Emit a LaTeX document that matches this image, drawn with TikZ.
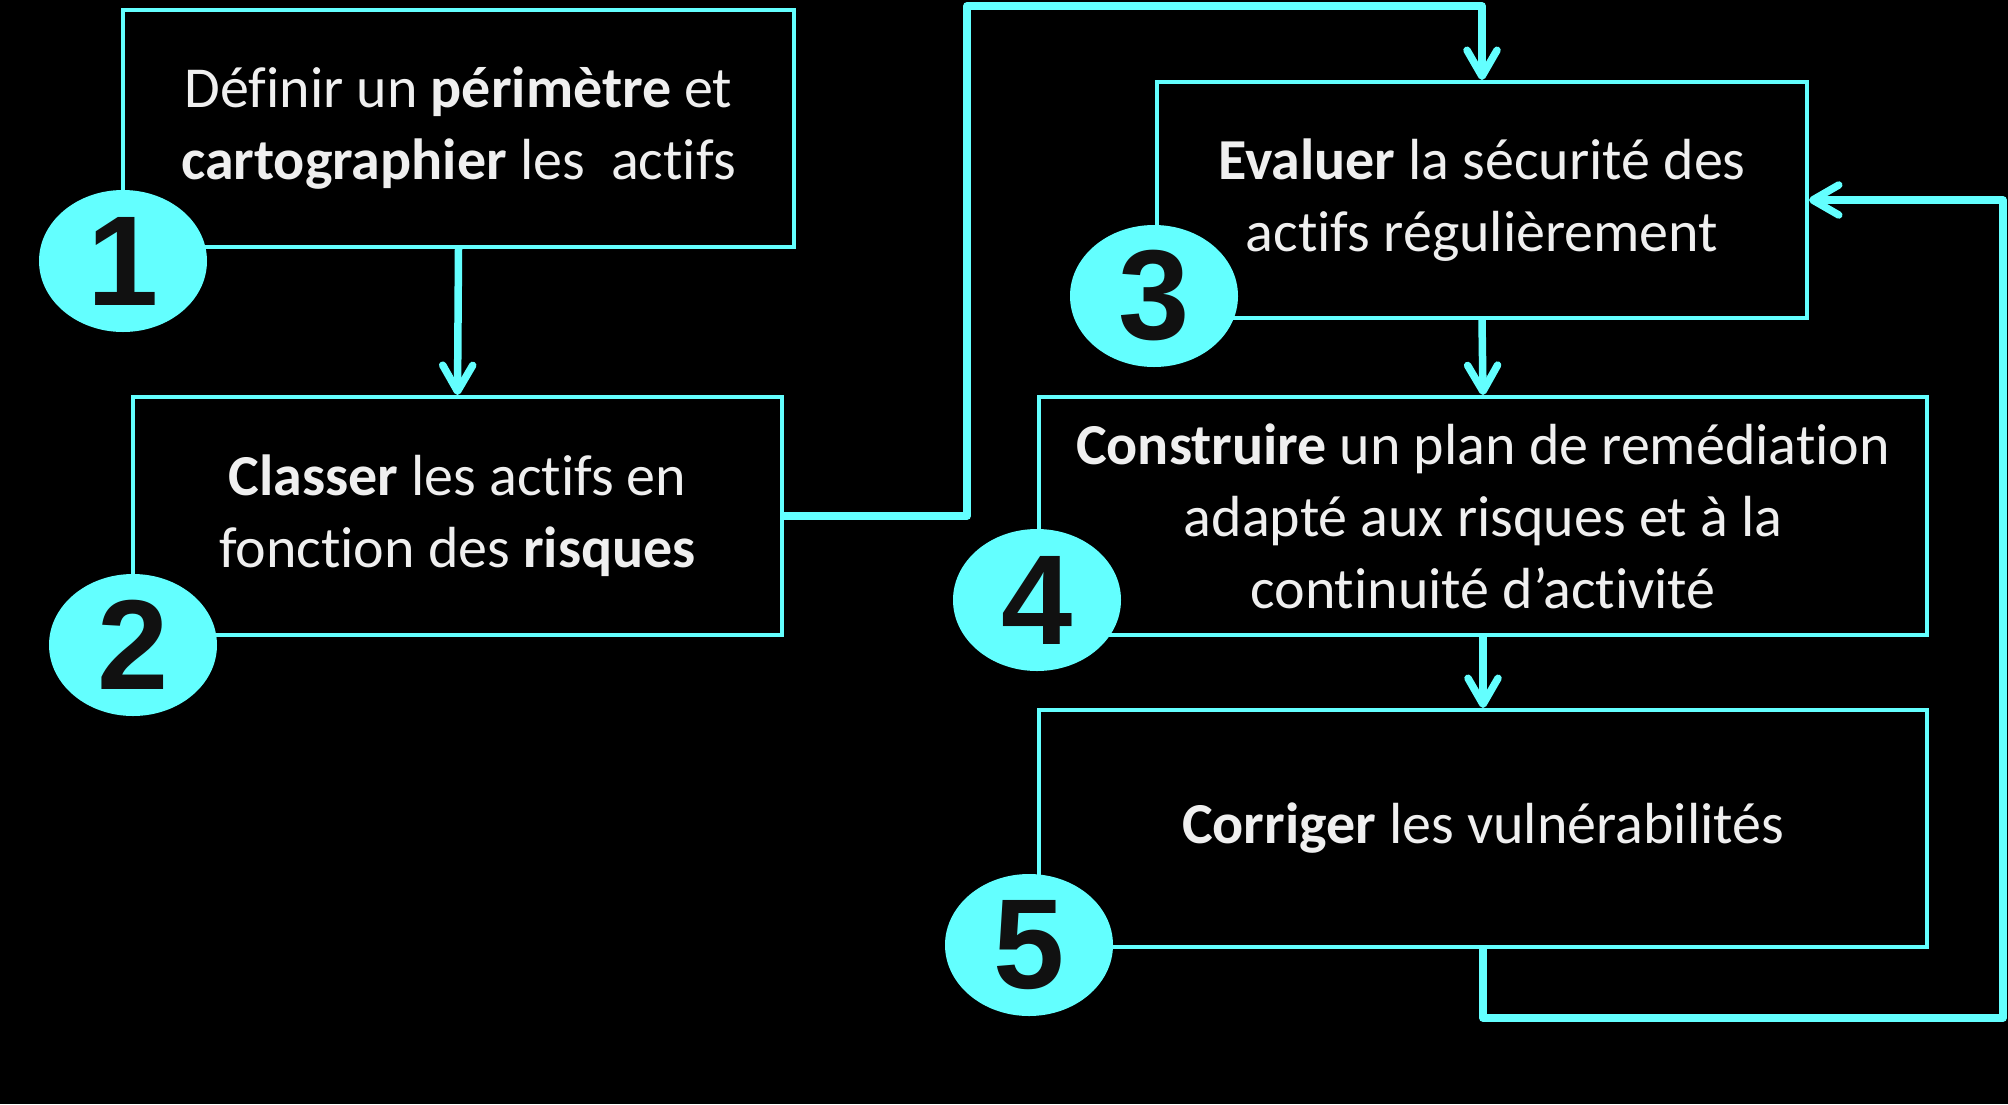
\documentclass[tikz,border=0pt]{standalone}
\usepackage{fontspec}
\setmainfont{Carlito}[RawFeature={-liga;-clig;-calt;-dlig}]
\newfontfamily\digitfont{Liberation Sans}
\usetikzlibrary{arrows.meta,shapes.geometric}
\definecolor{cy}{RGB}{99,255,255}
\definecolor{txt}{RGB}{239,239,239}
\definecolor{dig}{RGB}{17,17,17}
\begin{document}
\begin{tikzpicture}[x=0.5pt,y=-0.5pt,
  box/.style={draw=cy, line width=2pt, fill=black, rectangle, inner sep=0pt,
    text=txt, align=center, font=\fontsize{29}{36}\selectfont},
  badge/.style={ellipse, fill=cy, inner sep=0pt, minimum width=84pt, minimum height=71pt},
  digit/.style={font=\digitfont\bfseries\fontsize{64}{64}\selectfont, text=dig, inner sep=0pt},
  conn/.style={draw=cy, line width=3.75pt, line join=round},
  arr/.style={conn, -{Straight Barb[length=13pt,width=15pt,round]}}]
\fill[black] (0,0) rectangle (2008,1104);
\useasboundingbox (0,0) rectangle (2008,1104);

\node[box, minimum width=335.5pt, minimum height=118.5pt] (b1) at (458.5,128.5)
  {D\'efinir un \textbf{p\'erim\`etre} et\\\textbf{cartographier} les\ \ actifs};
\node[box, minimum width=324.5pt, minimum height=119pt] (b2) at (457.5,516)
  {\textbf{Classer} les actifs en\\fonction des \textbf{risques}};
\node[box, minimum width=325pt, minimum height=118pt] (b3) at (1482,200)
  {\textbf{Evaluer} la s\'ecurit\'e des\\actifs r\'eguli\`erement};
\node[box, minimum width=444pt, minimum height=119pt] (b4) at (1483,516)
  {\textbf{Construire} un plan de rem\'ediation\\adapt\'e aux risques et \`a la\\continuit\'e d’activit\'e};
\node[box, minimum width=444pt, minimum height=118.5pt] (b5) at (1483,828.5)
  {\textbf{Corriger} les vuln\'erabilit\'es};

\coordinate (t1) at (967,6);
\coordinate (fb) at (2003,1018);

\draw[arr] (b1.south) -- (b2.north);
\draw[arr] (b2.east) -| (t1) -| (b3.north);
\draw[arr] (b3.south) -- (b4.north);
\draw[arr] (b4.south) -- (b5.north);
\draw[arr] ([yshift=2pt]b5.south) |- (fb) |- (b3.east);

\node[badge] (c1) at (123,261) {};
\node[digit] (d1) at (c1) {1};
\node[badge] (c2) at (133,645) {};
\node[digit] (d2) at (c2) {2};
\node[badge] (c3) at (1154,296) {};
\node[digit] (d3) at (c3) {3};
\node[badge] (c4) at (1037,600) {};
\node[digit] (d4) at (c4) {4};
\node[badge] (c5) at (1029,945) {};
\node[digit] (d5) at (c5) {5};
\end{tikzpicture}
\end{document}
